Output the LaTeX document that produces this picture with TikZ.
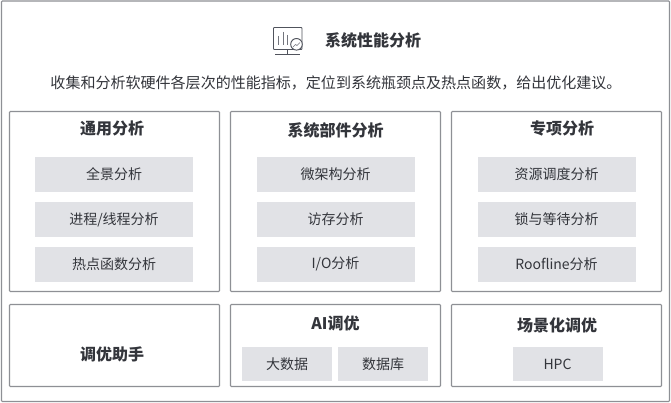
\documentclass[tikz,border=0pt]{standalone}
\usepackage{fontspec}
\setmainfont{Noto Sans CJK SC}
\definecolor{edgegray}{HTML}{8E9095}
\definecolor{fillgray}{HTML}{E1E2E6}
\definecolor{inkgray}{HTML}{33353B}
\definecolor{icongray}{HTML}{50535C}
\tikzset{
  panel/.style={draw=edgegray,line width=0.8pt,fill=white,rounded corners=0.6pt},
  item/.style={fill=fillgray,text=inkgray,font=\fontsize{10.5pt}{12pt}\selectfont,anchor=center},
  heading/.style={text=inkgray,font=\fontsize{12pt}{14pt}\selectfont\bfseries,anchor=center},
  desc/.style={text=inkgray,font=\fontsize{11.27pt}{14pt}\selectfont,anchor=center},
  iconline/.style={draw=icongray,line width=0.7pt},
  iconthin/.style={draw=icongray!80,line width=0.5pt},
}
\newcommand{\itembox}[6]{\node[item,minimum width=#4*0.75pt,minimum height=#5*0.75pt,inner sep=0pt] (#1) at (#2,#3) {#6};}
\begin{document}
\begin{tikzpicture}[x=0.75pt,y=-0.75pt]
\useasboundingbox (0,0) rectangle (671,403);
\fill[white] (0,0) rectangle (671,403);
\draw[panel] (1.5,1) rectangle (669.5,401.5);
% icon
\draw[iconline,rounded corners=0.5pt] (273.5,27.5) rectangle (302,49.5);
\draw[iconline] (287.5,49.5) -- (287.5,54);
\draw[iconline] (275,54) -- (300,54);
\draw[iconline,fill=white] (296.5,44.3) circle (5.8);
\draw[iconthin] (293,47) -- (295.5,44.5) -- (297,45.5) -- (300,42.5);
\draw[iconthin] (278.5,36) -- (278.5,45);
\draw[iconthin] (283,32) -- (283,45);
\draw[iconthin] (287,35) -- (287,45);
\node[heading] (title) at (373,40.5) {系统性能分析};
\node[desc] (intro) at (336,82.5) {收集和分析软硬件各层次的性能指标，定位到系统瓶颈点及热点函数，给出优化建议。};
% panels
\draw[panel] (9.5,111.5) rectangle (219.5,291.5);
\draw[panel] (230.5,111.5) rectangle (440.5,291.5);
\draw[panel] (451.5,111.5) rectangle (661.5,291.5);
\draw[panel] (9.5,304.5) rectangle (219.5,386.5);
\draw[panel] (230.5,304.5) rectangle (440.5,386.5);
\draw[panel] (451.5,304.5) rectangle (661.5,386.5);
\node[heading] (h1) at (112,128.5) {通用分析};
\node[heading] (h2) at (335.5,130) {系统部件分析};
\node[heading] (h3) at (562,128.5) {专项分析};
\node[heading] (h4) at (112,354) {调优助手};
\node[heading] (h5) at (335.5,323.5) {AI调优};
\node[heading] (h6) at (557,325) {场景化调优};
\itembox{a1}{114}{174.5}{158}{35}{全景分析}
\itembox{a2}{114}{219.5}{158}{35}{进程/线程分析}
\itembox{a3}{114}{264}{158}{35}{热点函数分析}
\itembox{b1}{335.5}{174.5}{158}{35}{微架构分析}
\itembox{b2}{335.5}{219.5}{158}{35}{访存分析}
\itembox{b3}{335.5}{264}{158}{35}{I/O分析}
\itembox{c1}{556.5}{174.5}{158}{35}{资源调度分析}
\itembox{c2}{556.5}{219.5}{158}{35}{锁与等待分析}
\itembox{c3}{556.5}{264}{158}{35}{Roofline分析}
\itembox{d1}{287}{364}{90}{34}{大数据}
\itembox{d2}{383}{364}{90}{34}{数据库}
\itembox{e1}{557.5}{364}{90}{34}{HPC}
\end{tikzpicture}
\end{document}
